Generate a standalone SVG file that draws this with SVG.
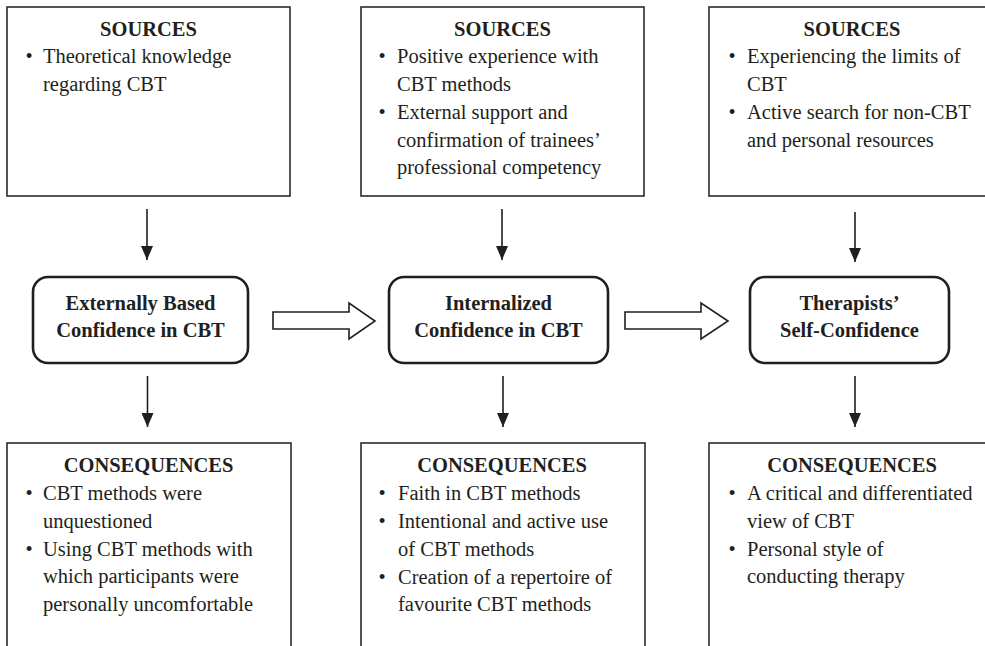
<svg xmlns="http://www.w3.org/2000/svg" width="985" height="646" viewBox="0 0 985 646">
<style>
  .box { fill: #fff; stroke: #2b2b2b; stroke-width: 1.6; }
  .node { fill: #fff; stroke: #1f1f1f; stroke-width: 2.6; }
  .title { font-family: "Liberation Serif", "Times New Roman", serif; font-size: 20.5px; font-weight: bold; fill: #231f20; text-anchor: middle; }
  .txt { font-family: "Liberation Serif", "Times New Roman", serif; font-size: 20.5px; fill: #231f20; }
  .bul { font-family: "Liberation Serif", "Times New Roman", serif; font-size: 20.5px; fill: #231f20; text-anchor: middle; }
  .conn { stroke: #1f1f1f; stroke-width: 1.6; fill: none; }
  .hollow { fill: #fff; stroke: #1f1f1f; stroke-width: 1.6; stroke-linejoin: miter; }
</style>
<defs>
  <marker id="ah" viewBox="0 0 14 12" refX="14" refY="6" markerWidth="14" markerHeight="12" markerUnits="userSpaceOnUse" orient="auto">
    <path d="M0,0 L14,6 L0,12 Z" fill="#1f1f1f"/>
  </marker>
</defs>
<rect width="985" height="646" fill="#fff"/>

<g id="sources1">
  <rect class="box" x="7" y="7" width="283" height="189"/>
  <text class="title" x="148.5" y="35.5">SOURCES</text>
  <text class="bul" x="29" y="63">•</text>
  <text class="txt" x="43" y="63">Theoretical knowledge</text>
  <text class="txt" x="43" y="91">regarding CBT</text>
</g>

<g id="sources2">
  <rect class="box" x="361" y="7" width="283" height="189"/>
  <text class="title" x="502.5" y="35.5">SOURCES</text>
  <text class="bul" x="382" y="63">•</text>
  <text class="txt" x="397" y="63">Positive experience with</text>
  <text class="txt" x="397" y="91">CBT methods</text>
  <text class="bul" x="382" y="119">•</text>
  <text class="txt" x="397" y="119">External support and</text>
  <text class="txt" x="397" y="147">confirmation of trainees’</text>
  <text class="txt" x="397" y="174">professional competency</text>
</g>

<g id="sources3">
  <rect class="box" x="709" y="7" width="290" height="189"/>
  <text class="title" x="852" y="35.5">SOURCES</text>
  <text class="bul" x="732" y="63">•</text>
  <text class="txt" x="747" y="63">Experiencing the limits of</text>
  <text class="txt" x="747" y="91">CBT</text>
  <text class="bul" x="732" y="119">•</text>
  <text class="txt" x="747" y="119">Active search for non-CBT</text>
  <text class="txt" x="747" y="147">and personal resources</text>
</g>

<g id="node1">
  <rect class="node" x="33" y="277" width="215" height="86" rx="15" ry="15"/>
  <text class="title" x="140.5" y="310">Externally Based</text>
  <text class="title" x="140.5" y="337">Confidence in CBT</text>
</g>

<g id="node2">
  <rect class="node" x="389" y="277" width="219" height="86" rx="15" ry="15"/>
  <text class="title" x="498.5" y="310">Internalized</text>
  <text class="title" x="498.5" y="337">Confidence in CBT</text>
</g>

<g id="node3">
  <rect class="node" x="750" y="277" width="199" height="86" rx="15" ry="15"/>
  <text class="title" x="849.5" y="310">Therapists’</text>
  <text class="title" x="849.5" y="337">Self-Confidence</text>
</g>

<g id="consequences1">
  <rect class="box" x="7" y="443" width="284" height="220"/>
  <text class="title" x="148.5" y="472">CONSEQUENCES</text>
  <text class="bul" x="29" y="500">•</text>
  <text class="txt" x="43" y="500">CBT methods were</text>
  <text class="txt" x="43" y="527.5">unquestioned</text>
  <text class="bul" x="29" y="555.5">•</text>
  <text class="txt" x="43" y="555.5">Using CBT methods with</text>
  <text class="txt" x="43" y="583">which participants were</text>
  <text class="txt" x="43" y="611">personally uncomfortable</text>
</g>

<g id="consequences2">
  <rect class="box" x="361" y="443" width="284" height="220"/>
  <text class="title" x="502" y="472">CONSEQUENCES</text>
  <text class="bul" x="382" y="500">•</text>
  <text class="txt" x="398" y="500">Faith in CBT methods</text>
  <text class="bul" x="382" y="528">•</text>
  <text class="txt" x="398" y="528">Intentional and active use</text>
  <text class="txt" x="398" y="556">of CBT methods</text>
  <text class="bul" x="382" y="584">•</text>
  <text class="txt" x="398" y="584">Creation of a repertoire of</text>
  <text class="txt" x="398" y="611">favourite CBT methods</text>
</g>

<g id="consequences3">
  <rect class="box" x="709" y="443" width="290" height="220"/>
  <text class="title" x="852" y="472">CONSEQUENCES</text>
  <text class="bul" x="732" y="500">•</text>
  <text class="txt" x="747" y="500">A critical and differentiated</text>
  <text class="txt" x="747" y="527.5">view of CBT</text>
  <text class="bul" x="732" y="555.5">•</text>
  <text class="txt" x="747" y="555.5">Personal style of</text>
  <text class="txt" x="747" y="583">conducting therapy</text>
</g>

<g id="connectors">
  <line class="conn" x1="147" y1="209" x2="147" y2="260" marker-end="url(#ah)"/>
  <line class="conn" x1="502" y1="209" x2="502" y2="260" marker-end="url(#ah)"/>
  <line class="conn" x1="855" y1="212" x2="855" y2="262" marker-end="url(#ah)"/>
  <line class="conn" x1="147.5" y1="376" x2="147.5" y2="427" marker-end="url(#ah)"/>
  <line class="conn" x1="503" y1="376" x2="503" y2="427" marker-end="url(#ah)"/>
  <line class="conn" x1="855" y1="376" x2="855" y2="427" marker-end="url(#ah)"/>
  <path class="hollow" d="M273,312 L349,312 L349,303 L375,321 L349,339 L349,329 L273,329 Z"/>
  <path class="hollow" d="M625,312 L701,312 L701,303 L728,321 L701,339 L701,329 L625,329 Z"/>
</g>
</svg>
